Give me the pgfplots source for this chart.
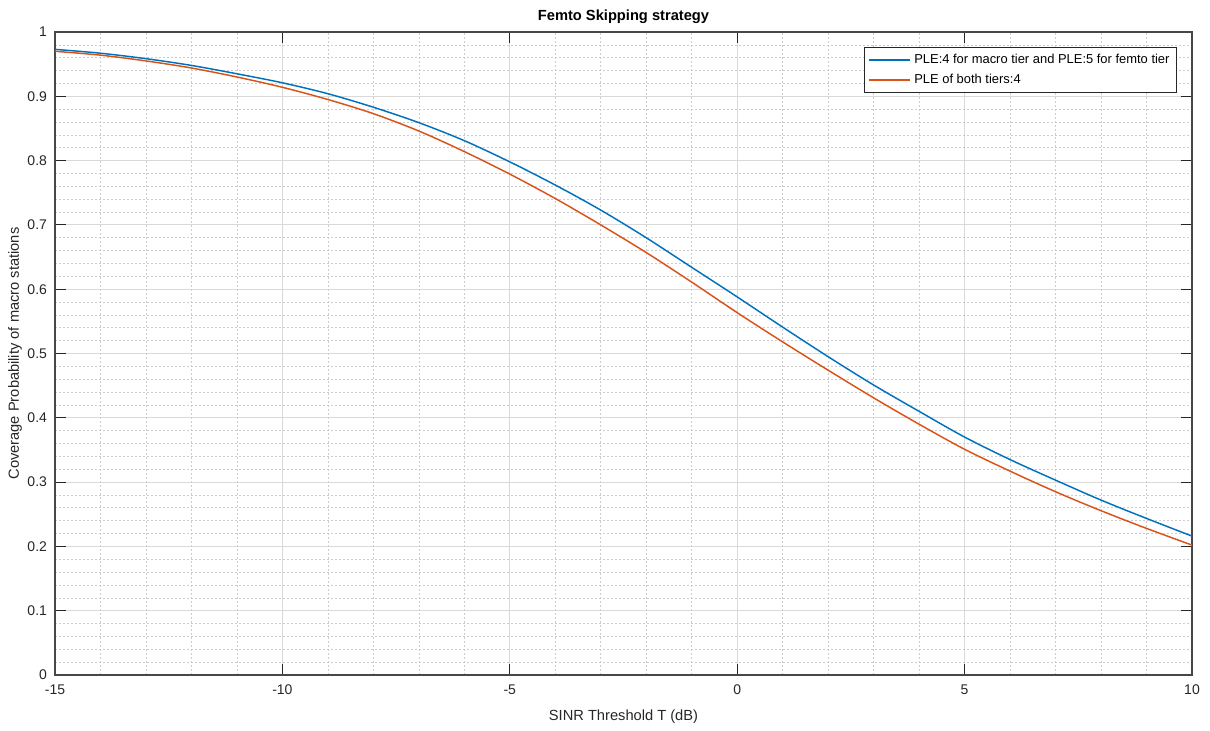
\documentclass[border=0pt]{standalone}
\usepackage{fontspec}
\setmainfont{Liberation Sans}
\usepackage{pgfplots}
\usepackage{pgfplotstable}
\pgfplotsset{compat=1.18}

\definecolor{mblue}{rgb}{0,0.447,0.741}
\definecolor{morange}{rgb}{0.85,0.325,0.098}
\definecolor{axgray}{RGB}{38,38,38}

% coverage probability vs SINR threshold
\pgfplotstableread{
T    ple45  ple44
-15  0.973  0.970
-14  0.967  0.964
-13  0.9585 0.955
-12  0.948  0.944
-11  0.935  0.930
-10  0.921  0.914
-9   0.904  0.895
-8   0.883  0.873
-7   0.859  0.846
-6   0.831  0.814
-5   0.798  0.779
-4   0.762  0.741
-3   0.723  0.700
-2   0.680  0.657
-1   0.634  0.611
0    0.588  0.5635
1    0.541  0.518
2    0.495  0.474
3    0.451  0.431
4    0.410  0.390
5    0.370  0.351
6    0.335  0.317
7    0.303  0.285
8    0.272  0.2555
9    0.2435 0.228
10   0.216  0.202
}\cov

\begin{document}
\begin{tikzpicture}
\path[use as bounding box] (-41.25pt,-42pt) rectangle (866.25pt,506.25pt);
\begin{axis}[
    at={(0,0)}, anchor=south west,
    scale only axis,
    width=852.75pt, height=482.25pt,
    xmin=-15, xmax=10, ymin=0, ymax=1,
    xtick={-15,-10,-5,0,5,10},
    xticklabels={-15,-10,-5,0,5,10},
    ytick={0,0.1,0.2,0.3,0.4,0.5,0.6,0.7,0.8,0.9,1},
    yticklabels={0,0.1,0.2,0.3,0.4,0.5,0.6,0.7,0.8,0.9,1},
    minor x tick num=4, minor y tick num=4,
    grid=both,
    major grid style={color=black!15, line width=0.6pt},
    minor grid style={color=black!20, dash pattern=on 1.2pt off 1.8pt, line width=0.5pt},
    tick align=inside,
    major tick length=8pt, minor tick length=0pt,
    axis line style={color=axgray!85, line width=0.8pt},
    tick style={color=axgray, line width=0.8pt},
    ticklabel style={font=\fontsize{10.5}{12}\selectfont, color=axgray},
    xticklabel style={yshift=-4pt},
    yticklabel style={xshift=-2.5pt},
    xlabel={SINR Threshold T (dB)},
    ylabel={Coverage Probability of macro stations},
    xlabel style={at={(axis description cs:0.5,-0.0653)}, anchor=center,
        font=\fontsize{11}{13}\selectfont, color=axgray},
    ylabel style={at={(axis description cs:-0.0352,0.5)}, anchor=center,
        font=\fontsize{11}{13}\selectfont, color=axgray},
    title={Femto Skipping strategy},
    every axis title/.style={at={(axis description cs:0.5,1.0233)}, anchor=center,
        font=\fontsize{11}{13}\selectfont\bfseries, color=black},
    legend style={at={(axis description cs:0.987,0.977)}, anchor=north east,
        draw=axgray, line width=0.6pt, fill=white,
        font=\fontsize{9.7}{11}\selectfont,
        nodes={inner sep=2.5pt, text height=7.5pt, text depth=2.5pt}},
    legend cell align=left,
    legend image code/.code={\draw[#1, line width=1.1pt] (0pt,0pt) -- (31pt,0pt);},
]
\addplot[mblue, line width=1.1pt, smooth] table[x=T, y=ple45] {\cov};
\addlegendentry{PLE:4 for macro tier and PLE:5 for femto tier}
\addplot[morange, line width=1.1pt, smooth] table[x=T, y=ple44] {\cov};
\addlegendentry{PLE of both tiers:4}
\end{axis}
\end{tikzpicture}
\end{document}
